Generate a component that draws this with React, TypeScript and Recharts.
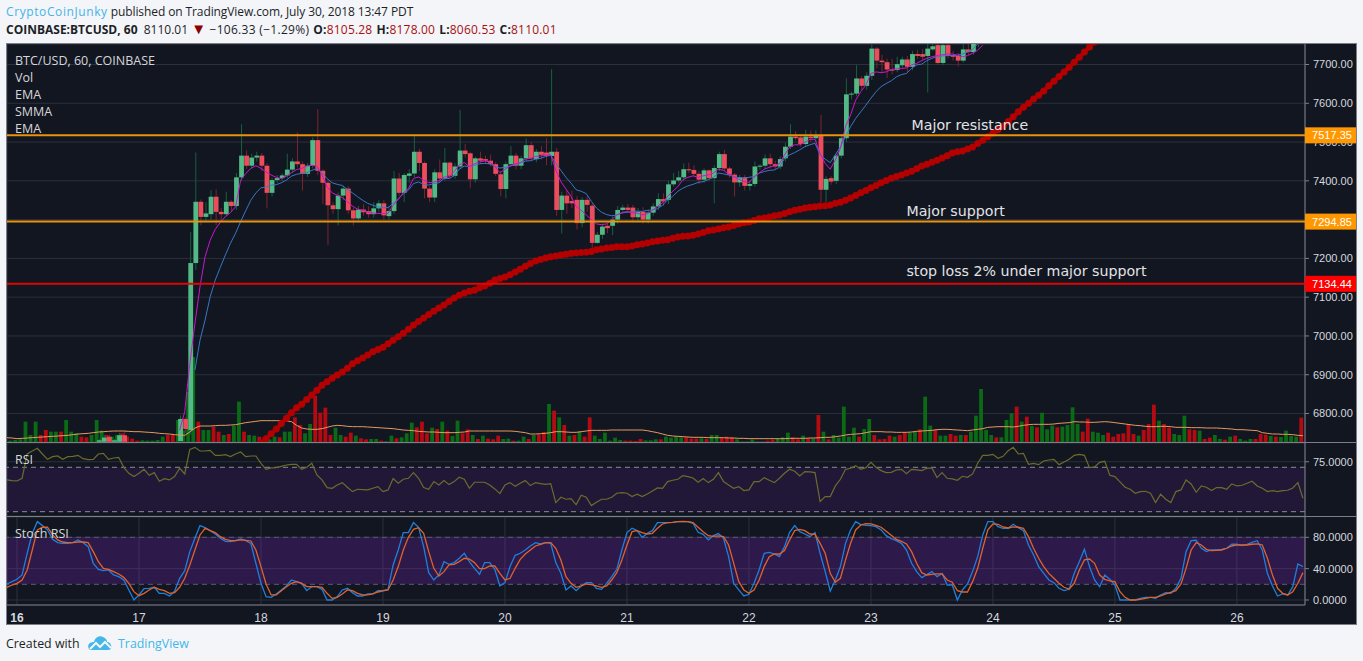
import { Bar, CartesianGrid, ComposedChart, Line, ReferenceArea, ReferenceDot, ReferenceLine, XAxis, YAxis } from "recharts";

// hourly bars, hour 0 = 00:00 on the 16th
const firstHour = -2;
const dayTicks = [0, 24, 48, 72, 96, 120, 144, 168, 192, 216, 240];
const dayLabels = ["16", "17", "18", "19", "20", "21", "22", "23", "24", "25", "26"];
const priceTicks = [6800, 6900, 7000, 7100, 7200, 7300, 7400, 7500, 7600, 7700];

const candleStart = 16;
const opens = [
  6727, 6727, 6740, 6727, 6727, 6744, null, null, null, null,
  null, null, null, null, null, null, 6729, 6786, 6757, 7188,
  7346, 7307, 7314, 7359, 7320, 7314, 7346, 7335, 7409, 7465,
  7439, 7460, 7465, 7439, 7369, 7402, 7407, 7414, 7429, 7450,
  7443, 7418, 7439, 7505, 7426, 7395, 7337, 7327, 7362, 7380,
  7324, 7303, 7326, 7322, 7314, 7329, 7342, 7309, 7322, 7406,
  7369, 7413, 7419, 7475, 7446, 7380, 7357, 7422, 7406, 7447,
  7413, 7437, 7478, 7471, 7404, 7458, 7456, 7452, 7443, 7417,
  7379, 7443, 7465, 7439, 7458, 7492, 7456, 7475, 7473, 7464,
  7475, 7325, 7362, 7348, 7351, 7291, 7351, 7336, 7240, 7261,
  7284, 7284, 7300, 7325, 7331, 7331, 7306, 7320, 7300, 7318,
  7334, 7353, 7351, 7391, 7401, 7409, 7430, 7428, 7418, 7403,
  7427, 7407, 7433, 7469, 7432, 7416, 7396, 7409, 7387, 7392,
  7437, 7439, 7458, 7443, 7437, 7458, 7488, 7514, 7512, 7495,
  7514, 7510, 7518, 7377, 7407, 7400, 7465, 7510, 7623, 7625,
  7664, 7645, 7671, 7741, 7710, 7706, 7687, 7686, 7698, 7713,
  7694, 7727, 7727, 7722, 7739, 7750, 7704, 7750, 7724, 7722,
  7710, 7739, 7732, 7753,
];
const highs = [
  6735, 6745, 6745, 6734, 6750, 6755, null, null, null, null,
  null, null, null, null, null, null, 6795, 6790, 7268, 7473,
  7352, 7345, 7376, 7378, 7330, 7372, 7350, 7420, 7546, 7478,
  7470, 7475, 7472, 7445, 7408, 7415, 7420, 7470, 7458, 7525,
  7450, 7446, 7512, 7585, 7430, 7400, 7345, 7370, 7388, 7386,
  7330, 7335, 7340, 7335, 7345, 7350, 7350, 7335, 7425, 7420,
  7420, 7430, 7515, 7482, 7450, 7385, 7430, 7455, 7485, 7450,
  7445, 7583, 7495, 7475, 7462, 7475, 7465, 7468, 7448, 7425,
  7450, 7490, 7472, 7465, 7510, 7500, 7482, 7490, 7510, 7688,
  7485, 7372, 7375, 7375, 7360, 7358, 7360, 7342, 7268, 7290,
  7290, 7308, 7335, 7338, 7340, 7338, 7330, 7332, 7325, 7342,
  7368, 7368, 7400, 7420, 7425, 7445, 7447, 7440, 7425, 7432,
  7430, 7440, 7475, 7480, 7436, 7420, 7415, 7415, 7400, 7450,
  7443, 7468, 7470, 7452, 7463, 7498, 7546, 7528, 7520, 7532,
  7530, 7530, 7570, 7412, 7412, 7470, 7520, 7664, 7630, 7698,
  7670, 7680, 7752, 7745, 7725, 7715, 7715, 7720, 7720, 7722,
  7735, 7738, 7740, 7755, 7760, 7760, 7760, 7760, 7735, 7730,
  7752, 7758, 7770, 7800,
];
const lows = [
  6720, 6720, 6722, 6722, 6722, 6722, null, null, null, null,
  null, null, null, null, null, null, 6722, 6750, 6745, 7170,
  7285, 7295, 7300, 7285, 7295, 7308, 7320, 7325, 7400, 7430,
  7432, 7450, 7425, 7329, 7360, 7395, 7400, 7408, 7420, 7435,
  7375, 7410, 7432, 7415, 7340, 7235, 7315, 7285, 7350, 7315,
  7285, 7295, 7310, 7305, 7305, 7320, 7300, 7300, 7315, 7360,
  7345, 7395, 7410, 7425, 7355, 7345, 7345, 7395, 7400, 7405,
  7405, 7430, 7460, 7381, 7395, 7445, 7445, 7437, 7412, 7360,
  7355, 7438, 7430, 7430, 7450, 7450, 7448, 7455, 7440, 7440,
  7310, 7264, 7315, 7330, 7275, 7280, 7320, 7210, 7238, 7250,
  7265, 7260, 7290, 7318, 7320, 7295, 7295, 7290, 7290, 7310,
  7325, 7335, 7340, 7385, 7395, 7400, 7420, 7410, 7392, 7395,
  7400, 7342, 7425, 7425, 7408, 7360, 7385, 7375, 7375, 7385,
  7428, 7430, 7432, 7428, 7430, 7450, 7482, 7505, 7488, 7490,
  7500, 7500, 7345, 7345, 7390, 7392, 7458, 7500, 7610, 7618,
  7635, 7635, 7660, 7690, 7680, 7665, 7675, 7680, 7690, 7680,
  7685, 7715, 7712, 7628, 7735, 7700, 7698, 7715, 7710, 7695,
  7705, 7725, 7725, 7745,
];
const closes = [
  6731, 6738, 6727, 6731, 6744, 6727, null, null, null, null,
  null, null, null, null, null, null, 6786, 6760, 7188, 7346,
  7307, 7316, 7359, 7320, 7314, 7346, 7335, 7409, 7465, 7439,
  7460, 7465, 7439, 7369, 7402, 7407, 7414, 7429, 7450, 7443,
  7418, 7439, 7505, 7426, 7395, 7337, 7327, 7362, 7380, 7324,
  7303, 7326, 7319, 7314, 7329, 7342, 7311, 7322, 7406, 7369,
  7415, 7419, 7475, 7446, 7380, 7357, 7422, 7406, 7447, 7413,
  7437, 7478, 7469, 7404, 7458, 7452, 7452, 7443, 7418, 7379,
  7443, 7465, 7439, 7458, 7492, 7458, 7475, 7467, 7464, 7475,
  7325, 7362, 7342, 7342, 7291, 7351, 7338, 7240, 7261, 7282,
  7278, 7300, 7325, 7331, 7325, 7306, 7320, 7300, 7318, 7334,
  7353, 7347, 7391, 7401, 7409, 7430, 7427, 7418, 7403, 7427,
  7407, 7433, 7469, 7432, 7416, 7396, 7409, 7387, 7392, 7437,
  7439, 7458, 7443, 7437, 7456, 7488, 7514, 7510, 7495, 7514,
  7510, 7516, 7377, 7405, 7398, 7465, 7510, 7623, 7625, 7664,
  7645, 7671, 7741, 7710, 7706, 7687, 7686, 7701, 7713, 7694,
  7727, 7722, 7720, 7741, 7747, 7704, 7750, 7722, 7720, 7710,
  7739, 7732, 7753, 7790,
];

const emaFastStart = 32;
const emaFast = [
  6757, 6805, 6929, 7032, 7127, 7204, 7247, 7275, 7293, 7308,
  7318, 7333, 7402, 7419, 7432, 7439, 7432, 7423, 7415, 7409,
  7406, 7412, 7421, 7429, 7432, 7438, 7440, 7438, 7415, 7385,
  7369, 7363, 7357, 7346, 7335, 7327, 7324, 7319, 7317, 7316,
  7316, 7316, 7337, 7352, 7369, 7380, 7406, 7410, 7402, 7395,
  7397, 7400, 7410, 7410, 7424, 7441, 7447, 7437, 7444, 7449,
  7451, 7449, 7437, 7421, 7430, 7438, 7444, 7447, 7456, 7458,
  7463, 7464, 7466, 7467, 7428, 7398, 7379, 7360, 7334, 7324,
  7312, 7300, 7289, 7287, 7289, 7300, 7312, 7318, 7321, 7317,
  7317, 7312, 7315, 7324, 7334, 7344, 7360, 7373, 7385, 7403,
  7409, 7413, 7409, 7413, 7415, 7420, 7430, 7427, 7418, 7411,
  7404, 7398, 7396, 7409, 7420, 7430, 7435, 7439, 7444, 7467,
  7487, 7493, 7493, 7499, 7507, 7507, 7471, 7445, 7430, 7454,
  7484, 7540, 7570, 7608, 7630, 7647, 7677, 7681, 7679, 7681,
  7687, 7689, 7690, 7691, 7699, 7703, 7710, 7716, 7720, 7723,
  7725, 7727, 7727, 7724, 7720, 7723, 7729, 7737, 7750,
];
const emaSlowStart = 35;
const emaSlow = [
  6912, 6989, 7041, 7101, 7144, 7177, 7209, 7239, 7265, 7295,
  7323, 7350, 7369, 7382, 7384, 7389, 7390, 7395, 7402, 7412,
  7417, 7419, 7421, 7427, 7432, 7421, 7406, 7395, 7391, 7388,
  7378, 7369, 7359, 7350, 7342, 7337, 7333, 7331, 7331, 7342,
  7354, 7366, 7376, 7393, 7397, 7391, 7389, 7393, 7395, 7406,
  7406, 7413, 7430, 7438, 7437, 7440, 7444, 7445, 7444, 7437,
  7433, 7435, 7438, 7441, 7445, 7451, 7452, 7456, 7458, 7463,
  7466, 7445, 7427, 7409, 7394, 7377, 7373, 7367, 7347, 7330,
  7319, 7313, 7310, 7312, 7317, 7319, 7320, 7322, 7321, 7324,
  7325, 7328, 7337, 7351, 7360, 7373, 7381, 7387, 7391, 7396,
  7398, 7403, 7409, 7420, 7418, 7415, 7411, 7408, 7407, 7409,
  7411, 7420, 7424, 7427, 7428, 7435, 7458, 7467, 7473, 7480,
  7488, 7493, 7497, 7467, 7456, 7447, 7467, 7488, 7514, 7540,
  7561, 7578, 7595, 7613, 7630, 7643, 7651, 7658, 7668, 7674,
  7677, 7690, 7699, 7701, 7710, 7716, 7720, 7722, 7723, 7723,
  7724, 7727, 7732, 7739, 7753, 7770,
];

const smmaStart = 48;
const smma = [
  6724, 6735, 6748, 6760, 6774, 6788, 6802, 6815, 6824, 6836,
  6848, 6860, 6873, 6882, 6891, 6899, 6907, 6917, 6928, 6936,
  6943, 6951, 6959, 6965, 6971, 6980, 6989, 6998, 7007, 7017,
  7028, 7037, 7046, 7055, 7064, 7072, 7080, 7089, 7098, 7105,
  7111, 7115, 7118, 7124, 7129, 7136, 7144, 7148, 7152, 7158,
  7165, 7172, 7180, 7187, 7193, 7197, 7201, 7204, 7206, 7209,
  7211, 7213, 7214, 7215, 7216, 7218, 7222, 7224, 7227, 7228,
  7230, 7230, 7230, 7232, 7235, 7237, 7240, 7243, 7245, 7247,
  7248, 7252, 7255, 7257, 7258, 7260, 7263, 7267, 7271, 7273,
  7276, 7279, 7281, 7285, 7289, 7292, 7294, 7298, 7302, 7304,
  7307, 7310, 7312, 7316, 7320, 7324, 7327, 7330, 7332, 7333,
  7335, 7336, 7338, 7342, 7345, 7350, 7356, 7362, 7369, 7375,
  7382, 7388, 7395, 7401, 7407, 7411, 7415, 7420, 7425, 7431,
  7438, 7443, 7448, 7453, 7459, 7465, 7472, 7475, 7477, 7482,
  7487, 7496, 7505, 7514, 7523, 7532, 7541, 7553, 7565, 7578,
  7590, 7600, 7611, 7621, 7632, 7645, 7657, 7669, 7681, 7693,
  7706, 7719, 7732, 7745, 7758, 7771,
];

// volume has no scale in the picture, so these are relative heights
const volumes = [
  5, 4, 6, 8, 61, 21, 61, 21, 36, 31,
  31, 31, 66, 31, 26, 16, 14, 21, 66, 34,
  21, 16, 21, 26, 16, 10, 4, 5, 4, 4,
  6, 16, 21, 21, 66, 35, 150, 255, 61, 36,
  36, 46, 31, 21, 24, 49, 121, 31, 21, 19,
  16, 14, 8, 16, 14, 31, 31, 74, 51, 26,
  54, 139, 88, 103, 21, 43, 21, 16, 28, 19,
  11, 8, 9, 9, 4, 2, 19, 11, 14, 26,
  58, 44, 61, 26, 43, 39, 61, 34, 18, 64,
  26, 38, 21, 9, 19, 10, 8, 19, 9, 10,
  4, 4, 16, 9, 21, 23, 30, 114, 94, 74,
  51, 19, 21, 31, 16, 74, 19, 9, 28, 4,
  13, 6, 4, 4, 3, 9, 5, 5, 8, 8,
  16, 13, 16, 14, 14, 10, 10, 11, 9, 21,
  21, 13, 16, 14, 8, 1, 1, 7, 1, 1,
  4, 7, 9, 14, 28, 14, 8, 19, 11, 10,
  81, 31, 8, 21, 13, 106, 16, 43, 16, 39,
  69, 21, 8, 9, 19, 16, 21, 29, 28, 31,
  38, 136, 49, 36, 19, 19, 24, 19, 21, 21,
  31, 79, 159, 36, 21, 14, 14, 66, 86, 106,
  61, 76, 48, 44, 88, 38, 49, 44, 46, 51,
  104, 54, 31, 70, 31, 28, 21, 28, 16, 24,
  26, 54, 24, 19, 36, 54, 112, 64, 54, 43,
  24, 21, 79, 38, 36, 34, 9, 13, 21, 9,
  7, 16, 19, 9, 4, 9, 9, 24, 22, 18,
  16, 15, 34, 18, 16, 73,
];
const volumeSides = (
  "gggggggrrg" + "grgggrrggg" + "rggrrrrggg" + "ggrrggggrg" + "grrgrggrgg" +
  "rrggrggrrg" + "grrrrggrrg" + "rrggrggrgg" + "grrrgrgrgg" + "rrgrgrrrgg" +
  "rggrgrrgrg" + "rgrgrrgggg" + "ggrrrrgggr" + "ggggrrrgrg" + "grrrgggggg" +
  "rrgggrrgrg" + "rgrgggggrg" + "grrrrgrrgg" + "rggrggrrgr" + "gggggrgggr" +
  "grgrgggrgg" + "ggrrgggrrr" + "rrrgrrrgrr" + "gggrrgrrgg" + "rgrgggrrrg" + "rggggr"
).split("");
const volumeAverage = [
  13, 12, 10, 11, 12, 13, 14, 15, 16, 17,
  18, 19, 20, 22, 24, 25, 26, 28, 30, 31,
  32, 33, 33, 33, 32, 31, 31, 30, 29, 28,
  26, 25, 24, 22, 21, 20, 30, 42, 48, 48,
  48, 49, 50, 50, 51, 52, 55, 58, 60, 62,
  64, 64, 64, 64, 64, 63, 61, 50, 42, 39,
  38, 38, 40, 44, 48, 50, 49, 47, 46, 46,
  46, 45, 44, 43, 42, 41, 40, 38, 36, 35,
  34, 32, 31, 30, 30, 29, 28, 28, 28, 29,
  30, 33, 33, 33, 33, 33, 33, 33, 33, 33,
  32, 30, 28, 24, 24, 25, 26, 28, 31, 31,
  30, 29, 29, 31, 33, 35, 35, 35, 35, 36,
  36, 36, 36, 36, 36, 36, 34, 31, 28, 24,
  20, 18, 17, 16, 15, 14, 14, 14, 13, 13,
  13, 13, 12, 12, 11, 11, 10, 10, 10, 10,
  10, 10, 10, 10, 11, 11, 11, 11, 12, 12,
  13, 14, 14, 16, 18, 21, 23, 24, 25, 28,
  31, 31, 31, 30, 30, 29, 29, 29, 30, 32,
  33, 34, 35, 37, 38, 38, 37, 36, 35, 34,
  36, 38, 40, 44, 45, 46, 46, 46, 45, 47,
  50, 52, 53, 53, 53, 53, 54, 56, 57, 58,
  61, 60, 60, 59, 59, 60, 61, 60, 58, 56,
  54, 52, 50, 49, 47, 46, 46, 47, 47, 46,
  44, 44, 44, 43, 43, 43, 42, 42, 42, 41,
  40, 39, 37, 37, 36, 35, 34, 28, 26, 24,
  24, 23, 23, 22, 20, 19,
];

const rsi = [
  58.6, 58, 57.7, 60.1, 82, 84.7, 87.1, 82, 77.2, 79.6,
  80.2, 77.2, 79.6, 79.9, 80.8, 77.8, 76.9, 77.2, 82, 82.6,
  77.2, 78.4, 79, 70, 64.6, 61.6, 64.6, 68.2, 62.8, 65.2,
  57.4, 59.8, 58.6, 61.6, 69.1, 64, 86.2, 88, 84.7, 84.7,
  85.3, 80.8, 80.8, 81.4, 79.6, 82, 83.8, 79.6, 80.2, 80.2,
  73.6, 68.2, 69.4, 69.7, 70.9, 72.1, 72.7, 72.7, 68.2, 70,
  73.6, 63.1, 58.6, 51.7, 51.1, 54.1, 56.2, 52, 48.1, 50.2,
  49.9, 49.6, 51.1, 52.6, 48.1, 49.6, 59.8, 55.6, 59.2, 60.1,
  65.2, 60.1, 51.7, 50.2, 57.1, 54.1, 58, 54.4, 57.1, 61,
  59.2, 51.1, 56.5, 56.5, 56.5, 54.1, 50.5, 46.3, 54.1, 56.2,
  52.9, 55.6, 58, 53.5, 56.2, 55.3, 54.7, 55.3, 38.2, 43,
  41.2, 41.8, 36.4, 44.8, 43, 35.5, 38.5, 41.2, 41.2, 43,
  46.6, 47.2, 46.6, 43.6, 45.7, 43.6, 46, 48.7, 51.4, 51.1,
  57.1, 58.3, 59.2, 62.5, 61.6, 60.4, 56.5, 59.8, 56.2, 59.2,
  65.2, 57.1, 54.1, 51.1, 52.6, 49, 49.6, 57.1, 57.1, 60.7,
  58.3, 56.2, 60.1, 64.6, 68.2, 66.4, 62.2, 66.1, 65.8, 65.2,
  39.1, 43.6, 43.6, 53.2, 59.2, 68.2, 69.1, 71.5, 68.2, 69.7,
  74.5, 70, 67, 65.2, 65.5, 67.6, 68.2, 64.3, 68.2, 67.6,
  67, 69.1, 69.4, 60.7, 65.2, 60.1, 59.5, 58.3, 61.9, 61,
  64, 73.6, 80.8, 80.8, 81.7, 78.1, 79.9, 85, 88, 82,
  82.6, 72.7, 73.6, 72.4, 75.7, 76.6, 77.2, 72.4, 74.8, 77.2,
  80.8, 81.7, 80.8, 69.7, 70.3, 74.5, 75.4, 62.8, 61.6, 56.8,
  52, 50.2, 46.6, 48.1, 48.4, 46.6, 38.2, 45.7, 41.2, 38.2,
  48.1, 49.6, 58.6, 55, 47.5, 53.2, 52, 49, 51.7, 51.7,
  50.2, 55, 53.2, 53.8, 55.6, 57.4, 53.2, 51.1, 48.1, 49,
  48.1, 49, 49.3, 51.4, 56.2, 42.1,
];
const stochK = [
  20.4, 23.4, 26.4, 31.9, 59.6, 85.1, 100, 94.9, 89.4, 77.4,
  73.2, 72.3, 72.3, 73.2, 76.6, 73.2, 68.1, 46.8, 39.1, 37.4,
  38.3, 31.9, 29.8, 25.5, 12.8, 0, 6.4, 14.5, 14.9, 16.2,
  8.5, 8.5, 5.1, 11.1, 27.7, 37.4, 61.7, 78.7, 94.9, 92.3,
  88.5, 84.2, 78.7, 74.9, 74.5, 75.7, 77.9, 75.7, 72.3, 46.8,
  21.3, 4.3, 3.4, 7.7, 12.8, 17.9, 25.5, 23.4, 21.3, 11.9,
  17, 17, 13.6, 0, 0, 4.3, 12.8, 14.9, 9.4, 5.1,
  5.1, 7.7, 7.7, 11.9, 11.9, 13.6, 44.7, 63.8, 86, 86,
  98.7, 92.8, 68.1, 34.9, 25.5, 31.9, 48.9, 45.5, 47.7, 53.2,
  59.6, 48.9, 40.4, 32.8, 47.7, 47.7, 39.1, 17.9, 22.1, 42.6,
  57, 59.6, 63.8, 68.9, 73.2, 71.5, 73.2, 72.3, 47.7, 34,
  12.8, 17.9, 11.9, 17.9, 22.1, 22.1, 14.9, 13.6, 21.3, 29.8,
  39.1, 63.8, 86, 91.5, 88.5, 79.6, 85.1, 88.5, 98.7, 98.7,
  98.7, 99.1, 100, 100, 100, 97.9, 86.4, 83.8, 76.6, 82.1,
  84.7, 78.7, 55.3, 21.3, 12.8, 5.1, 7.2, 21.3, 38.3, 59.6,
  60.8, 58.7, 55.3, 68.1, 86.4, 94.9, 87.2, 84.2, 80.8, 86,
  59.6, 36.2, 11.5, 25.5, 42.6, 72.3, 89.4, 100, 96.2, 95.3,
  94.9, 93.6, 89.4, 82.1, 78.3, 75.7, 72.3, 63.8, 46.8, 36.2,
  28.5, 32.3, 36.2, 29.8, 34, 19.1, 19.1, 0, 12.8, 20.4,
  36.2, 55.3, 83, 100, 100, 93.6, 91.5, 91.5, 96.6, 92.3,
  88.5, 70.2, 57.4, 42.6, 34, 25.5, 22.1, 14.9, 11.9, 13.6,
  34, 48.9, 64.7, 42.6, 25.5, 17, 31.9, 26.4, 19.1, 0,
  0, 0, 0, 2.1, 3.4, 3.4, 2.1, 6.4, 9.4, 8.5,
  14.9, 27.7, 61.7, 75.7, 76.2, 66, 61.7, 63.8, 63.8, 64.7,
  66, 71.1, 71.1, 69.4, 71.1, 73.6, 75.7, 63.8, 34, 17.9,
  5.1, 7.7, 6.4, 17, 46, 42.6,
];
const stochD = [
  16.2, 19.1, 21.3, 25.5, 38.3, 63.8, 89.4, 92.8, 92.8, 83,
  76.6, 74, 73.2, 73.2, 74, 74, 73.2, 61.7, 48.9, 40.4,
  39.1, 36.2, 33.2, 28.9, 21.3, 10.6, 5.5, 8.5, 12.8, 16.2,
  13.6, 11.9, 8.5, 9.4, 16.2, 27.7, 44.7, 63.8, 83, 91.5,
  88.5, 86, 80.8, 77.4, 75.7, 75.7, 76.6, 76.2, 75.3, 63.8,
  42.6, 20.4, 6.4, 6.4, 11.9, 17, 21.3, 23.4, 21.3, 17,
  17, 17, 16.2, 8.5, 2.1, 3.4, 7.7, 12.8, 11.9, 8.5,
  6.4, 6.4, 7.7, 10.2, 11.5, 12.8, 25.5, 42.6, 63.8, 80,
  90.2, 92.3, 85.1, 61.7, 40.4, 30.6, 36.2, 44.7, 45.5, 48.9,
  53.2, 52.3, 47.7, 40, 40, 43.4, 43.4, 34, 25.5, 27.7,
  40.4, 51.9, 58.7, 63.8, 68.9, 71.1, 73.2, 73.2, 66, 51.1,
  29.8, 21.3, 16.2, 17.9, 20.4, 19.6, 17.9, 16.2, 17.9, 25.5,
  34.9, 51.1, 70.2, 87.2, 88.5, 86, 84.2, 85.1, 91.5, 97,
  98.7, 99.1, 100, 100.4, 100, 98.7, 92.8, 87.2, 82.1, 81.3,
  81.7, 80.8, 70.2, 46.8, 23.4, 12.8, 8.5, 12.8, 25.5, 42.6,
  55.3, 58.7, 58.7, 63, 76.6, 88.5, 90.2, 88.5, 84.2, 83.8,
  72.3, 59.6, 34, 22.6, 27.7, 51.1, 72.3, 89.4, 95.7, 97.4,
  97, 95.3, 92.8, 87.7, 82.5, 77.4, 74.9, 71.5, 61.7, 46.8,
  34.9, 31.9, 32.8, 33.2, 33.2, 25.5, 22.6, 11.9, 10.2, 10.2,
  23.4, 40.4, 66, 89.4, 97, 96.6, 93.2, 91.9, 93.2, 92.8,
  91.5, 80.8, 66, 53.2, 42.6, 34, 27.7, 21.3, 16.2, 14,
  21.3, 38.3, 51.1, 52.3, 46.8, 31.9, 26.4, 24.3, 23.4, 10.6,
  3.4, 0, 0, 0.9, 2.1, 3.4, 3.4, 5.1, 7.7, 9.8,
  11.9, 20.4, 40.4, 63.8, 73.2, 70.2, 64.7, 63, 63.4, 63.8,
  66, 68.9, 70.2, 70.2, 70.2, 71.1, 71.5, 70.2, 53.2, 31.9,
  14.9, 8.5, 6.4, 10.6, 21.3, 34.9,
];

const priceLines = [
  { price: 7517.35, color: "#e8930c", tag: "#ff9800" },
  { price: 7294.85, color: "#e8930c", tag: "#ff9800" },
  { price: 7134.44, color: "#df0606", tag: "#ff0000" },
];
const annotations = [
  { hour: 175, price: 7544, text: "Major resistance" },
  { hour: 174, price: 7322, text: "Major support" },
  { hour: 174, price: 7167, text: "stop loss 2% under major support" },
];
const paneTitles = ["BTC/USD, 60, COINBASE", "Vol", "EMA", "SMMA", "EMA"];

const rows = volumes.map((volume, i) => {
  const hour = firstHour + i;
  const c = hour - candleStart;
  return {
    hour,
    volume,
    volumeAverage: volumeAverage[i],
    side: volumeSides[i],
    open: opens[c] ?? null,
    high: highs[c] ?? null,
    low: lows[c] ?? null,
    close: closes[c] ?? null,
    emaFast: emaFast[hour - emaFastStart] ?? null,
    emaSlow: emaSlow[hour - emaSlowStart] ?? null,
    smma: smma[hour - smmaStart] ?? null,
    rsi: rsi[i],
    stochK: stochK[i],
    stochD: stochD[i],
  };
});

const bg = "#121621";
const gridColor = "#2c303c";
const edgeColor = "#7c7f88";
const tickColor = "#d6d8de";
const axisFont = '"Liberation Sans", Arial, sans-serif';
const xDomain: [number, number] = [-1.97, 253.4];
const priceDomain: [number, number] = [6726.5, 7752.9];
const chartWidth = 1349;

function Candle(props: any) {
  const { x, y, width, height, payload } = props;
  if (payload.open == null) return null;
  const unit = height / (payload.high - payload.low);
  const up = payload.close >= payload.open;
  const top = y + (payload.high - Math.max(payload.open, payload.close)) * unit;
  const bottom = y + (payload.high - Math.min(payload.open, payload.close)) * unit;
  const mid = x + width / 2;
  return (
    <g>
      <line x1={mid} x2={mid} y1={y} y2={y + height} stroke={up ? "#17603f" : "#7a2530"} strokeWidth={1} />
      <rect x={mid - 2.4} y={top} width={4.8} height={Math.max(bottom - top, 1)} fill={up ? "#53b987" : "#eb4d5c"} />
    </g>
  );
}

function VolumeBar(props: any) {
  const { x, y, width, height, payload } = props;
  return <rect x={x + width / 2 - 2.2} y={y} width={3.8} height={height} fill={payload.side === "g" ? "#0a6a16" : "#b40b13"} />;
}

function PriceTag(props: any) {
  const { viewBox, price, color } = props;
  const left = viewBox.x + viewBox.width;
  return (
    <g>
      <rect x={left} y={viewBox.y - 8} width={51} height={16} fill={color} />
      <text x={left + 27} y={viewBox.y + 4} textAnchor="middle" fill="#fff" fontSize={11} fontFamily={axisFont}>
        {price.toFixed(2)}
      </text>
    </g>
  );
}

function DayTick(props: any) {
  const { x, y, payload } = props;
  const label = dayLabels[dayTicks.indexOf(payload.value)];
  return (
    <text x={x} y={y + 9} textAnchor="middle" fill={tickColor} fontSize={12} fontFamily={axisFont} fontWeight={label === "16" ? 700 : 400}>
      {label}
    </text>
  );
}

function PricePane() {
  return (
    <ComposedChart
      width={chartWidth}
      height={398}
      data={rows}
      margin={{ top: 0, right: 0, bottom: 0, left: 0 }}
      style={{ position: "absolute", left: 7, top: 44 }}
    >
      <CartesianGrid stroke={gridColor} />
      <XAxis dataKey="hour" type="number" domain={xDomain} allowDataOverflow ticks={dayTicks} height={0} tick={false} axisLine={false} tickLine={false} />
      <YAxis
        orientation="right"
        width={51}
        domain={priceDomain}
        allowDataOverflow
        ticks={priceTicks}
        tickFormatter={(v: number) => v.toFixed(2)}
        tick={{ fill: tickColor, fontSize: 11, fontFamily: axisFont }}
        stroke={edgeColor}
        tickSize={4}
        tickMargin={4}
      />
      <YAxis yAxisId="vol" hide domain={[0, 1194]} />
      <Bar yAxisId="vol" dataKey="volume" barSize={4} shape={<VolumeBar />} isAnimationActive={false} />
      <Line yAxisId="vol" dataKey="volumeAverage" stroke="#e59a5f" strokeWidth={1} dot={false} isAnimationActive={false} />
      <Line dataKey="smma" stroke="#b30000" strokeWidth={4} dot={{ r: 3.5, fill: "#b30000", stroke: "none" }} isAnimationActive={false} />
      <Bar dataKey={(row: any) => (row.open == null ? null : [row.low, row.high])} barSize={5} shape={<Candle />} isAnimationActive={false} />
      <Line dataKey="emaSlow" stroke="#3a76c4" strokeWidth={1} dot={false} isAnimationActive={false} />
      <Line dataKey="emaFast" stroke="#cc16cc" strokeWidth={1} dot={false} isAnimationActive={false} />
      {annotations.map((note) => (
        <ReferenceDot
          key={note.text}
          x={note.hour}
          y={note.price}
          r={0}
          stroke="none"
          label={{ value: note.text, position: "right", fill: "#e2e3e6", fontSize: 14.2, fontFamily: '"DejaVu Sans", sans-serif' }}
        />
      ))}
    </ComposedChart>
  );
}

// second transparent layer, the price tags have to sit on top of the axis labels
function PriceLineLayer() {
  return (
    <ComposedChart
      width={chartWidth}
      height={398}
      data={rows}
      margin={{ top: 0, right: 51, bottom: 0, left: 0 }}
      style={{ position: "absolute", left: 7, top: 44 }}
    >
      <XAxis dataKey="hour" type="number" domain={xDomain} allowDataOverflow hide />
      <YAxis domain={priceDomain} allowDataOverflow hide />
      {priceLines.map((line) => (
        <ReferenceLine
          key={line.price}
          y={line.price}
          stroke={line.color}
          strokeWidth={2}
          label={<PriceTag price={line.price} color={line.tag} />}
        />
      ))}
    </ComposedChart>
  );
}

function RsiPane() {
  return (
    <ComposedChart
      width={chartWidth}
      height={73}
      data={rows}
      margin={{ top: 0, right: 0, bottom: 0, left: 0 }}
      style={{ position: "absolute", left: 7, top: 443 }}
    >
      <CartesianGrid stroke={gridColor} />
      <XAxis dataKey="hour" type="number" domain={xDomain} allowDataOverflow ticks={dayTicks} height={0} tick={false} axisLine={false} tickLine={false} />
      <YAxis
        orientation="right"
        width={51}
        domain={[26.1, 91.9]}
        allowDataOverflow
        ticks={[75]}
        tickFormatter={(v: number) => v.toFixed(4)}
        tick={{ fill: tickColor, fontSize: 11, fontFamily: axisFont }}
        stroke={edgeColor}
        tickSize={4}
        tickMargin={4}
      />
      <ReferenceArea y1={30} y2={70} fill="#8028c8" fillOpacity={0.14} stroke="none" />
      <ReferenceLine y={70} stroke="#8c8c9a" strokeDasharray="5 4" />
      <ReferenceLine y={30} stroke="#8c8c9a" strokeDasharray="5 4" />
      <Line dataKey="rsi" stroke="#6d6b2b" strokeWidth={1.2} dot={false} isAnimationActive={false} />
    </ComposedChart>
  );
}

function StochPane() {
  return (
    <ComposedChart
      width={chartWidth}
      height={107}
      data={rows}
      margin={{ top: 0, right: 0, bottom: 0, left: 0 }}
      style={{ position: "absolute", left: 7, top: 517 }}
    >
      <CartesianGrid stroke={gridColor} />
      <XAxis
        dataKey="hour"
        type="number"
        domain={xDomain}
        allowDataOverflow
        ticks={dayTicks}
        height={19}
        tick={<DayTick />}
        stroke={edgeColor}
        tickLine={false}
        tickMargin={2}
      />
      <YAxis
        orientation="right"
        width={51}
        domain={[-6.4, 105.9]}
        allowDataOverflow
        ticks={[0, 40, 80]}
        tickFormatter={(v: number) => v.toFixed(4)}
        tick={{ fill: tickColor, fontSize: 11, fontFamily: axisFont }}
        stroke={edgeColor}
        tickSize={4}
        tickMargin={4}
      />
      <ReferenceArea y1={20} y2={80} fill="#8028c8" fillOpacity={0.25} stroke="none" />
      <ReferenceLine y={80} stroke="#5f5a72" strokeDasharray="5 4" />
      <ReferenceLine y={20} stroke="#5f5a72" strokeDasharray="5 4" />
      <Line dataKey="stochK" stroke="#1f7fdc" strokeWidth={1.3} dot={false} isAnimationActive={false} />
      <Line dataKey="stochD" stroke="#e0622c" strokeWidth={1.3} dot={false} isAnimationActive={false} />
    </ComposedChart>
  );
}

const headerFont = '"Open Sans", sans-serif';
const loss = { color: "#a80f0f" };

function Ohlc({ name, value }: { name: string; value: string }) {
  return (
    <span style={{ letterSpacing: 0.2, marginLeft: 4 }}>
      <b>{name}:</b>
      <span style={loss}>{value}</span>
    </span>
  );
}

function Header() {
  return (
    <div style={{ position: "absolute", left: 6, top: 3, fontFamily: headerFont, fontSize: 12, color: "#1c1f26", whiteSpace: "nowrap" }}>
      <div style={{ height: 18, lineHeight: "18px" }}>
        <span style={{ color: "#45b4e6", letterSpacing: 0.6 }}>CryptoCoinJunky</span>
        <span style={{ letterSpacing: -0.1 }}> published on TradingView.com, July 30, 2018 13:47 PDT</span>
      </div>
      <div style={{ height: 18, lineHeight: "18px" }}>
        <b>COINBASE:BTCUSD, 60</b>&nbsp; 8110.01 <span style={{ color: "#8b0000", fontSize: 15, lineHeight: 0 }}>▼</span>
        <span style={{ letterSpacing: 0.3 }}> −106.33 (−1.29%)</span>
        <Ohlc name="O" value="8105.28" />
        <Ohlc name="H" value="8178.00" />
        <Ohlc name="L" value="8060.53" />
        <Ohlc name="C" value="8110.01" />
      </div>
    </div>
  );
}

function Footer() {
  return (
    <div style={{ position: "absolute", left: 6, top: 635, height: 18, fontFamily: headerFont, fontSize: 12.4, lineHeight: "18px", color: "#1c1f26", whiteSpace: "nowrap" }}>
      Created with
      <svg width={24} height={16} viewBox="0 0 24 16" style={{ position: "absolute", left: 82, top: 0 }}>
        <path d="M3 15 C0 15 -1 10 2 8 C3 7 5 7 6 7 C7 2 12 0 15 2 C18 3 19 5 19 7 C22 7 24 10 23 13 C23 14 22 15 20 15 Z" fill="#45b6e8" />
        <polyline points="2,14 8,8 12,12 17,7 23,13" fill="none" stroke="#f3f5f9" strokeWidth={2} />
      </svg>
      <span style={{ position: "absolute", left: 112, top: 0, color: "#45b6e8" }}>TradingView</span>
    </div>
  );
}

function Titles() {
  const base = { position: "absolute" as const, left: 15, fontFamily: headerFont, fontSize: 12.5, color: "#d6d6da", lineHeight: "17px", whiteSpace: "nowrap" as const };
  return (
    <>
      {paneTitles.map((title, i) => (
        <div key={i} style={{ ...base, top: 52 + i * 17 }}>
          {title}
        </div>
      ))}
      <div style={{ ...base, top: 451 }}>RSI</div>
      <div style={{ ...base, top: 525 }}>Stoch RSI</div>
    </>
  );
}

export default function App() {
  return (
    <div style={{ position: "absolute", left: 0, top: 0, width: 1363, height: 661, background: "#f3f5f9", overflow: "hidden" }}>
      <Header />
      <div style={{ position: "absolute", left: 6, top: 43, width: 1349, height: 580, background: bg, border: `1px solid ${edgeColor}` }} />
      <PricePane />
      <RsiPane />
      <StochPane />
      <PriceLineLayer />
      <div style={{ position: "absolute", left: 7, top: 442, width: 1349, height: 1, background: edgeColor }} />
      <div style={{ position: "absolute", left: 7, top: 516, width: 1349, height: 1, background: edgeColor }} />
      <Titles />
      <Footer />
    </div>
  );
}
